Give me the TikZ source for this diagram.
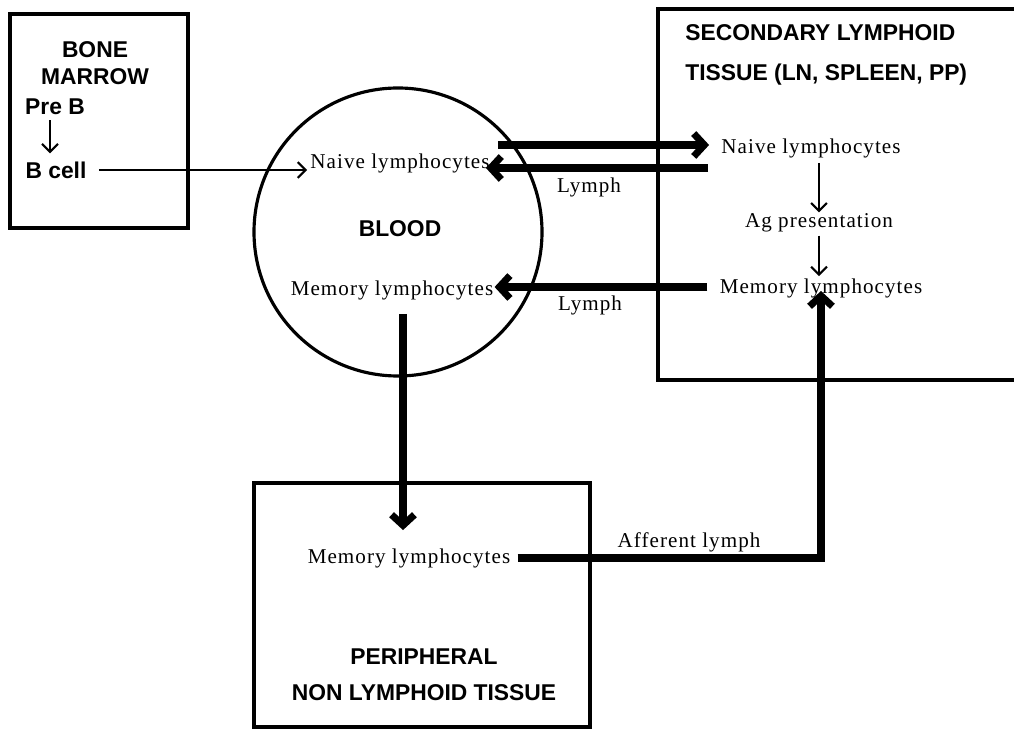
\documentclass[tikz,border=0pt]{standalone}
\usepackage{fontspec}
\setmainfont{Liberation Serif}
\setsansfont{Liberation Sans}
\newfontfamily\cellfont[LetterSpace=5]{Liberation Serif}
\usetikzlibrary{arrows.meta}

\begin{document}
\begin{tikzpicture}[x=0.02cm,y=-0.02cm,
  zone/.style={font=\sffamily\bfseries\fontsize{13}{15}\selectfont, inner sep=0pt},
  cell/.style={font=\cellfont\fontsize{12}{14}\selectfont, inner sep=0pt},
  wall/.style={line width=1.8pt},
  thin arrow/.style={line width=1.2pt, -{Straight Barb[length=4.5pt,width=9pt]}},
  fat arrow/.style={line width=4pt, -{Straight Barb[length=6pt,width=13pt]}}]

\useasboundingbox (0,0) rectangle (1014,729);

\draw[wall] (10,14) rectangle (188,228);
\draw[wall] (398,232) circle (144);
\draw[wall] (658,9) rectangle (1040,380);
\draw[wall] (254,483) rectangle (590,727);

\node[zone, align=center] (bm) at (95,63) {BONE\\MARROW};
\node[zone] (preb) at (55,107) {Pre B};
\node[zone] (bcell) at (56,170) {B cell};

\node[zone] (blood) at (400,229) {BLOOD};
\node[cell] (naiveb) at (400,163) {Naive lymphocytes};
\node[cell] (memb) at (392,290) {Memory lymphocytes};

\node[zone, align=left, anchor=north west] (slt) at (685,24)
  {SECONDARY LYMPHOID\\[7.7pt]TISSUE (LN, SPLEEN, PP)};
\node[cell] (naives) at (811,148) {Naive lymphocytes};
\node[cell] (agp) at (819,223) {Ag presentation};
\node[cell] (mems) at (821,288) {Memory lymphocytes};

\node[cell] (memp) at (409,558) {Memory lymphocytes};
\node[zone, align=center] (pnlt) at (424,675)
  {PERIPHERAL\\[5.4pt]NON LYMPHOID TISSUE};

\node[cell] (lymph1) at (589,187) {Lymph};
\node[cell] (lymph2) at (590,305) {Lymph};
\node[cell] (aff) at (689,542) {Afferent lymph};

\draw[thin arrow] ([shift={(-5,5)}]preb.south) -- ([shift={(-5,-8)}]preb.south |- bcell.north);
\draw[thin arrow] ([shift={(12,0)}]bcell.east) -- ([shift={(-3,0)}]naiveb.west |- bcell.east);

\draw[fat arrow] ([shift={(8,-18)}]naiveb.east) coordinate (n0) -- ([shift={(-12,0)}]naives.west |- n0);
\draw[fat arrow] ([shift={(-13,20)}]naives.west) coordinate (n1) -- ([shift={(-4,0)}]naiveb.east |- n1);
\draw[fat arrow] ([shift={(-12,-1)}]mems.west) coordinate (m0) -- ([shift={(1,0)}]memb.east |- m0);
\draw[fat arrow] ([shift={(11,14)}]memb.south) coordinate (m1) -- ([shift={(0,-18)}]m1 |- memp.north);
\draw[fat arrow] ([shift={(7,0)}]memp.east) -| ([shift={(0,3)}]mems.center);

\draw[thin arrow] ([shift={(0,5)}]agp.north |- naives.south) -- ([shift={(0,-1)}]agp.north);
\draw[thin arrow] ([shift={(0,3)}]agp.south) -- ([shift={(0,-2)}]agp.south |- mems.north);

\end{tikzpicture}
\end{document}
